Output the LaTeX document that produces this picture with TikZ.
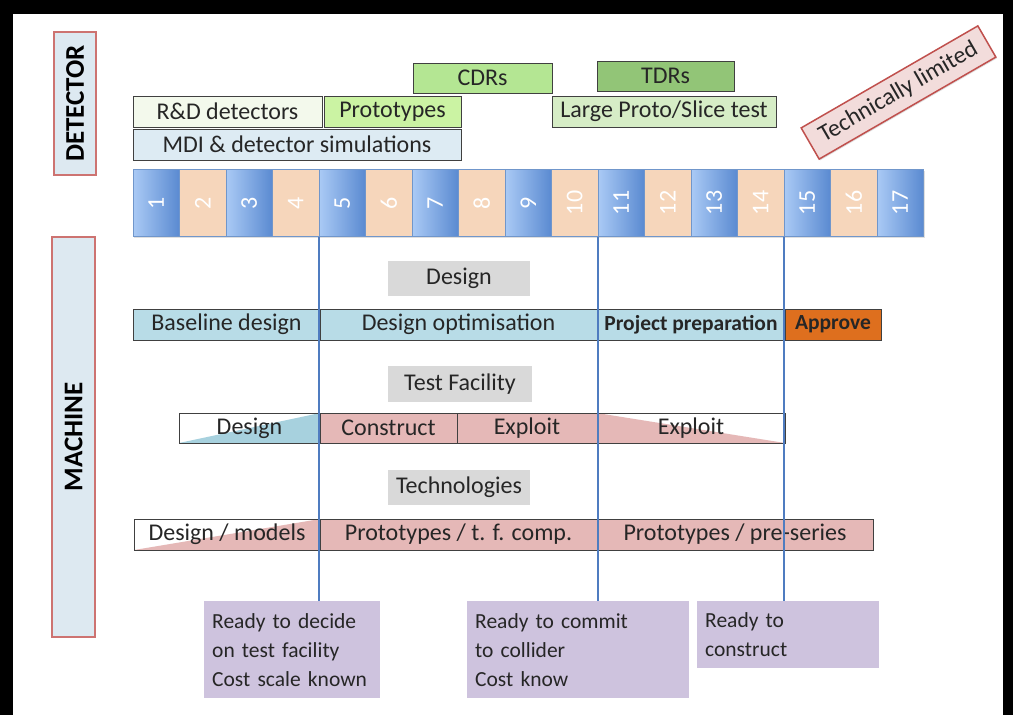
\documentclass[tikz,border=0pt]{standalone}
\usepackage{fontspec}
\setmainfont{Carlito}
\usepackage{tikz}
\usetikzlibrary{positioning,shadows}
\definecolor{cellBlueL}{HTML}{AACAF5}
\definecolor{cellBlueR}{HTML}{5A8AD1}
\definecolor{cellPeach}{HTML}{F6D6BB}
\definecolor{cellEdge}{HTML}{7096CB}
\definecolor{barBlue}{HTML}{B8DCE7}
\definecolor{triBlue}{HTML}{A7D1DE}
\definecolor{barPink}{HTML}{E5B8B7}
\definecolor{barOrange}{HTML}{DE6F1E}
\definecolor{tagGray}{HTML}{D9D9D9}
\definecolor{sideFill}{HTML}{DDE9F1}
\definecolor{sideEdge}{HTML}{C0504D}
\definecolor{mileBlue}{HTML}{4F7CC0}
\definecolor{readyLilac}{HTML}{CEC3DE}
\definecolor{rdGreen}{HTML}{F3F9EC}
\definecolor{protoGreen}{HTML}{CBF3A3}
\definecolor{cdrGreen}{HTML}{B4E693}
\definecolor{tdrGreen}{HTML}{92C577}
\definecolor{largeGreen}{HTML}{D6EDC6}
\definecolor{mdiBlue}{HTML}{DDEBF3}
\definecolor{limitPink}{HTML}{F2DCDB}

\begin{document}
\begin{tikzpicture}[
  x=1pt, y=-1pt,
  font=\fontsize{24}{26}\selectfont,
  box/.style={draw=black!75, line width=0.9pt, inner sep=2pt, outer sep=0pt, text=black!85, minimum height=31pt,
    drop shadow={shadow xshift=1.2pt, shadow yshift=-1.2pt, opacity=0.25}},
  bar/.style={box},
  boldbar/.style={box, font=\bfseries\fontsize{21.5}{24}\selectfont},
  tag/.style={fill=tagGray, inner sep=2pt, text=black!85, minimum width=142pt, minimum height=35pt},
  side/.style={draw=sideEdge!80, line width=1.4pt, fill=sideFill, rotate=90, font=\bfseries\fontsize{27}{30}\selectfont},
  cell/.style={draw=cellEdge, line width=0.8pt, inner sep=0pt, outer sep=0pt, minimum width=46.5pt, minimum height=67pt, text=white,
    drop shadow={shadow xshift=1.2pt, shadow yshift=-1.2pt, opacity=0.25}},
  oddcell/.style={cell, left color=cellBlueL, right color=cellBlueR},
  evencell/.style={cell, fill=cellPeach},
  riseblue/.style={path picture={\fill[triBlue] (path picture bounding box.south west) -- (path picture bounding box.north east) -- (path picture bounding box.south east) -- cycle;}},
  risepink/.style={path picture={\fill[barPink] (path picture bounding box.south west) -- (path picture bounding box.north east) -- (path picture bounding box.south east) -- cycle;}},
  fallpink/.style={path picture={\fill[barPink] (path picture bounding box.north west) -- (path picture bounding box.south east) -- (path picture bounding box.south west) -- cycle;}},
  ready/.style={fill=readyLilac, align=left, anchor=north west, inner xsep=8pt, inner ysep=6pt, text=black!85, font=\fontsize{21.5}{29}\selectfont},
  milestone/.style={draw=mileBlue, line width=1.6pt},
]
\useasboundingbox (0,0) rectangle (1013,715);
\fill[black] (0,0) rectangle (1013,715);
\fill[white] (13,14) rectangle (1003,715);

% side labels
\node[side, minimum width=143pt, minimum height=42pt] (detector) at (75,103.5) {DETECTOR};
\node[side, minimum width=400pt, minimum height=43pt] (machine) at (73.5,437) {MACHINE};

% detector activities
\node[box, fill=rdGreen, minimum width=189pt] (rnd) at (227.5,111.5) {R\&D detectors};
\node[box, fill=protoGreen, minimum width=137pt, right=2pt of rnd] (proto) {Prototypes};
\node[box, fill=mdiBlue, minimum width=328pt, below=2pt of rnd.south west, anchor=north west] (mdi) {MDI \& detector simulations};
\node[box, fill=cdrGreen, minimum width=139pt, minimum height=30pt] (cdr) at (482.5,78) {CDRs};
\node[box, fill=tdrGreen, minimum width=137pt, minimum height=30pt] (tdr) at (665.5,76) {TDRs};
\node[box, fill=largeGreen, minimum width=224pt] (large) at (664,111.5) {Large Proto/Slice test};
\node[box, draw=sideEdge, line width=1.5pt, fill=limitPink, rotate=30, minimum width=204pt, minimum height=36pt] (limit) at (898.5,92.5) {Technically limited};

% years
\node[oddcell] (c1) at (156.25,203) {\rotatebox{90}{1}};
\node[evencell, right=0pt of c1] (c2) {\rotatebox{90}{2}};
\node[oddcell, right=0pt of c2] (c3) {\rotatebox{90}{3}};
\node[evencell, right=0pt of c3] (c4) {\rotatebox{90}{4}};
\node[oddcell, right=0pt of c4] (c5) {\rotatebox{90}{5}};
\node[evencell, right=0pt of c5] (c6) {\rotatebox{90}{6}};
\node[oddcell, right=0pt of c6] (c7) {\rotatebox{90}{7}};
\node[evencell, right=0pt of c7] (c8) {\rotatebox{90}{8}};
\node[oddcell, right=0pt of c8] (c9) {\rotatebox{90}{9}};
\node[evencell, right=0pt of c9] (c10) {\rotatebox{90}{10}};
\node[oddcell, right=0pt of c10] (c11) {\rotatebox{90}{11}};
\node[evencell, right=0pt of c11] (c12) {\rotatebox{90}{12}};
\node[oddcell, right=0pt of c12] (c13) {\rotatebox{90}{13}};
\node[evencell, right=0pt of c13] (c14) {\rotatebox{90}{14}};
\node[oddcell, right=0pt of c14] (c15) {\rotatebox{90}{15}};
\node[evencell, right=0pt of c15] (c16) {\rotatebox{90}{16}};
\node[oddcell, right=0pt of c16] (c17) {\rotatebox{90}{17}};

% design
\node[tag] (designtag) at (459,278.5) {Design};
\node[bar, fill=barBlue, minimum width=187pt, anchor=west] (baseline) at (133,324.5) {Baseline design};
\node[bar, fill=barBlue, minimum width=277pt, right=0pt of baseline] (optim) {Design optimisation};
\node[boldbar, fill=barBlue, minimum width=188pt, right=0pt of optim] (prep) {Project preparation};
\node[boldbar, fill=barOrange, minimum width=96pt, right=0pt of prep] (approve) {Approve};

% test facility
\node[tag, minimum width=144pt, minimum height=36pt] (tftag) at (460,384) {Test Facility};
\node[bar, fill=white, riseblue, minimum width=141pt, minimum height=30pt, anchor=west] (tfdesign) at (179,428) {Design};
\node[bar, fill=barPink, minimum width=137pt, minimum height=30pt, right=0pt of tfdesign] (construct) {Construct};
\node[bar, fill=barPink, minimum width=140pt, minimum height=30pt, right=0pt of construct] (exploit) {Exploit};
\node[bar, fill=white, fallpink, minimum width=188pt, minimum height=30pt, right=0pt of exploit] (exploitb) {Exploit};

% technologies
\node[tag] (techtag) at (459,487.5) {Technologies};
\node[bar, fill=white, risepink, minimum width=186pt, anchor=west] (models) at (134,534.5) {Design / models};
\node[bar, fill=barPink, minimum width=277pt, right=0pt of models] (tfcomp) {Prototypes / t. f. comp.};
\node[bar, fill=barPink, minimum width=276pt, right=0pt of tfcomp] (preseries) {Prototypes / pre-series};

% decision points
\node[ready, text width=160pt, minimum height=97pt] (ready1) at (204,601) {Ready to decide\\on test facility\\Cost scale known};
\node[ready, text width=206pt, minimum height=97pt] (ready2) at (467,601) {Ready to commit\\to collider\\Cost know};
\node[ready, text width=166pt, minimum height=67pt] (ready3) at (697,601) {Ready to\\construct};

\draw[milestone] (c5.south west) -- (c5.south west |- ready1.north);
\draw[milestone] (c11.south west) -- (c11.south west |- ready2.north);
\draw[milestone] (c15.south west) -- (c15.south west |- ready3.north);
\end{tikzpicture}
\end{document}
